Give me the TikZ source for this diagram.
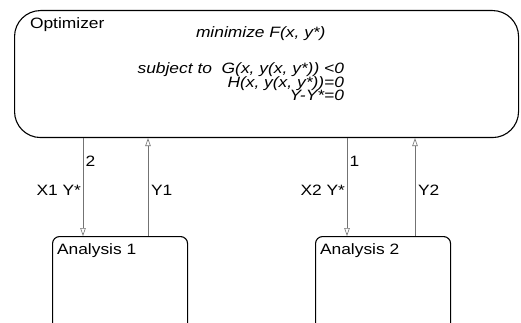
\documentclass[tikz,border=0pt]{standalone}
\usepackage{fontspec}
\setmainfont{Liberation Sans}[FakeStretch=1.16]
\usetikzlibrary{arrows.meta}
\begin{document}
\begin{tikzpicture}[x=1pt,y=-1pt,
  font=\fontsize{15}{17}\selectfont,
  box/.style={draw=black, line width=1.1pt, fill=none},
  flow/.style={draw=black!55, line width=0.6pt, -{Triangle[open, length=8pt, width=5.5pt]}},
  txt/.style={inner sep=0pt, outer sep=0pt},
  lbl/.style={inner sep=0pt, outer sep=0pt}]
\useasboundingbox (0,0) rectangle (521,323);
\clip (0,0) rectangle (521,323);
\fill[white] (0,0) rectangle (521,323);
% boxes
\node[box, rounded corners=26pt, minimum width=504pt, minimum height=127pt, anchor=north west, inner sep=0pt] (opt) at (14,10) {};
\node[box, rounded corners=7pt, minimum width=135pt, minimum height=120pt, anchor=north west, inner sep=0pt] (an1) at (52,236) {};
\node[box, rounded corners=7pt, minimum width=135pt, minimum height=120pt, anchor=north west, inner sep=0pt] (an2) at (315,236) {};
% texts
\node[txt, anchor=base west] (optname) at (30,29) {Optimizer};
\node[txt, anchor=base west, font=\fontsize{15}{17}\selectfont\itshape] (obj) at (196,38) {minimize F(x, y*)};
\node[txt, anchor=base east, font=\fontsize{15}{17}\selectfont\itshape] (c1) at (344,74) {subject to\ \ G(x, y(x, y*)) <0};
\node[txt, anchor=base east, font=\fontsize{15}{17}\selectfont\itshape] (c2) at (344,87.5) {H(x, y(x, y*))=0};
\node[txt, anchor=base east, font=\fontsize{15}{17}\selectfont\itshape] (c3) at (344,101) {Y-Y*=0};
\node[txt, anchor=base west] (an1name) at (57,254) {Analysis 1};
\node[txt, anchor=base west] (an2name) at (320,254) {Analysis 2};
% connectors
\draw[flow] ([xshift=31pt]an1.north west |- opt.south) -- ([xshift=31pt]an1.north west);
\draw[flow] ([xshift=96pt]an1.north west) -- ([xshift=96pt]an1.north west |- opt.south);
\draw[flow] ([xshift=32pt]an2.north west |- opt.south) -- ([xshift=32pt]an2.north west);
\draw[flow] ([xshift=100pt]an2.north west) -- ([xshift=100pt]an2.north west |- opt.south);
% labels
\node[lbl, anchor=base west] (n2) at (85.5,166) {2};
\node[lbl, anchor=base east] (x1) at (81,195) {X1 Y*};
\node[lbl, anchor=base west] (y1) at (151,195) {Y1};
\node[lbl, anchor=base west] (n1) at (349.5,166) {1};
\node[lbl, anchor=base east] (x2) at (345,195) {X2 Y*};
\node[lbl, anchor=base west] (y2) at (418,195) {Y2};
\end{tikzpicture}
\end{document}
